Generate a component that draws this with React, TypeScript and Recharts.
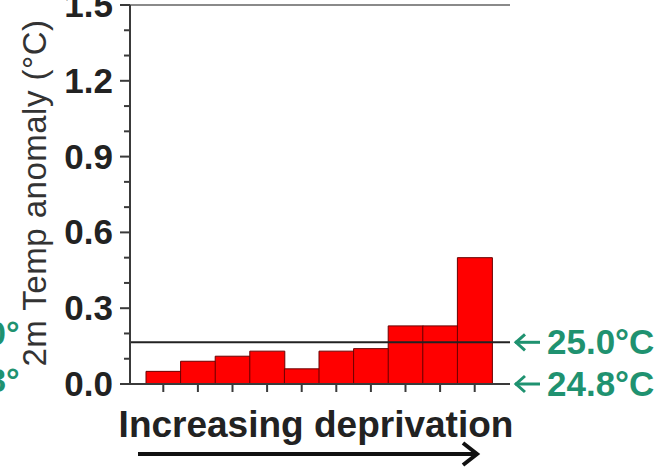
import { BarChart, Bar, XAxis, YAxis, ReferenceLine } from 'recharts';

// deprivation deciles, least -> most deprived
const deciles = ['1', '2', '3', '4', '5', '6', '7', '8', '9', '10'];
const anomaly = [0.05, 0.09, 0.11, 0.13, 0.06, 0.13, 0.14, 0.23, 0.23, 0.5];

const yTicks = [0, 0.1, 0.2, 0.3, 0.4, 0.5, 0.6, 0.7, 0.8, 0.9, 1.0, 1.1, 1.2, 1.3, 1.4, 1.5];
const yLabels = ['0.0', '', '', '0.3', '', '', '0.6', '', '', '0.9', '', '', '1.2', '', '', '1.5'];

const markerValues = [0.165, 0];
const markerLabels = ['25.0°C', '24.8°C'];

const data = deciles.map((d, i) => ({ decile: d, anomaly: anomaly[i] }));

const GREEN = '#1f9270';
const AXIS = '#3a3a3a';
const FONT = '"Liberation Sans", Arial, sans-serif';

const YTick = (props: any) => {
  const { x, y, index } = props;
  const label = yLabels[index];
  const major = label !== '';
  return (
    <g>
      <line x1={x - (major ? 10 : 6)} x2={x} y1={y} y2={y} stroke={AXIS} strokeWidth={2} />
      {major && (
        <text
          x={x - 17}
          y={y}
          dy={12}
          textAnchor="end"
          fontFamily={FONT}
          fontWeight="bold"
          fontSize={35}
          fill="#222"
        >
          {label}
        </text>
      )}
    </g>
  );
};

const YLabel = () => (
  <g>
    <text
      transform="translate(46,193) rotate(-90)"
      textAnchor="middle"
      fontFamily={FONT}
      fontSize={33}
      letterSpacing={0.5}
      fill="#333"
    >
      2m Temp anomaly (°C)
    </text>
    {/* cut-off labels of the neighbouring panel */}
    <text x={-13} y={345} fontFamily={FONT} fontWeight="bold" fontSize={34} fill={GREEN}>0°</text>
    <text x={-13} y={392} fontFamily={FONT} fontWeight="bold" fontSize={34} fill={GREEN}>8°</text>
  </g>
);

const XLabel = () => (
  <g>
    <text
      x={316}
      y={437}
      textAnchor="middle"
      fontFamily={FONT}
      fontWeight="bold"
      fontSize={37}
      fill="#222"
    >
      Increasing deprivation
    </text>
    <line x1={138} x2={475} y1={454} y2={454} stroke="#111" strokeWidth={4} />
    <path d="M463 443 L477 454 L463 465" fill="none" stroke="#111" strokeWidth={4} />
  </g>
);

const markerLabel = (text: string) => (props: any) => {
  const { viewBox } = props;
  const x0 = viewBox.x + viewBox.width + 5;
  const y = viewBox.y;
  return (
    <g>
      <line x1={x0} x2={x0 + 25} y1={y} y2={y} stroke={GREEN} strokeWidth={3} />
      <path d={`M${x0 + 10} ${y - 8} L${x0 + 1} ${y} L${x0 + 10} ${y + 8}`} fill="none" stroke={GREEN} strokeWidth={3} />
      <text
        x={x0 + 32}
        y={y}
        dy={12}
        fontFamily={FONT}
        fontWeight="bold"
        fontSize={35}
        fill={GREEN}
      >
        {text}
      </text>
    </g>
  );
};

export default function App() {
  return (
    <div style={{ position: 'absolute', left: 0, top: 0, background: '#fff' }}>
      <BarChart
        width={657}
        height={467}
        data={data}
        barCategoryGap={0}
        margin={{ top: 5, right: 147, left: 70, bottom: 23 }}
      >
        <XAxis
          dataKey="decile"
          padding={{ left: 16, right: 18 }}
          height={60}
          tickSize={8}
          tickLine={{ stroke: AXIS, strokeWidth: 2 }}
          tickFormatter={() => ''}
          axisLine={{ stroke: AXIS, strokeWidth: 2 }}
          label={{ content: XLabel }}
        />
        <YAxis
          width={60}
          domain={[0, 1.5]}
          ticks={yTicks}
          interval={0}
          tickSize={0}
          tickMargin={0}
          tickLine={false}
          tick={YTick}
          axisLine={{ stroke: AXIS, strokeWidth: 2 }}
          label={{ content: YLabel }}
        />
        <YAxis
          yAxisId="frame"
          orientation="right"
          width={0}
          domain={[0, 1.5]}
          tick={false}
          tickLine={false}
          axisLine={{ stroke: '#555', strokeWidth: 2 }}
        />
        <ReferenceLine y={1.5} stroke="#8a8a8a" strokeWidth={2} />
        <Bar
          dataKey="anomaly"
          fill="#ff0000"
          stroke="#6a0000"
          strokeWidth={1}
          isAnimationActive={false}
        />
        {markerValues.map((v, i) => (
          <ReferenceLine
            key={i}
            y={v}
            stroke={i === 0 ? '#222' : 'none'}
            strokeWidth={2}
            label={{ content: markerLabel(markerLabels[i]) }}
          />
        ))}
      </BarChart>
    </div>
  );
}
